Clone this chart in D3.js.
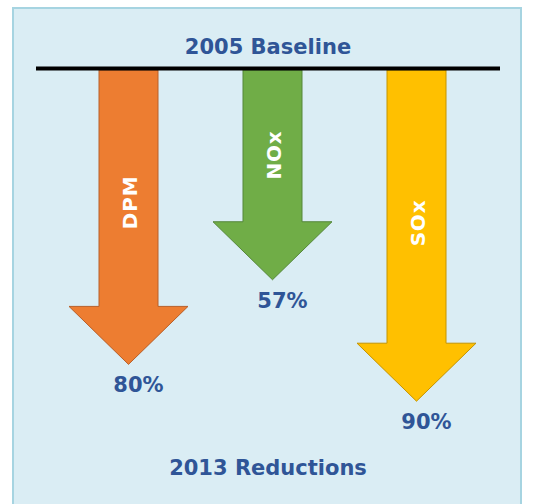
<!DOCTYPE html>
<html>
<head>
    <title>2013 Reductions</title>
    <script src="https://d3js.org/d3.v7.min.js"></script>
    <style>
        body { margin: 0; background: #fff; }
        .blue-text {
            font-family: "DejaVu Sans", sans-serif;
            font-weight: bold;
            font-size: 21px;
            fill: #2f5597;
        }
        .arrow-label {
            font-family: "DejaVu Sans", sans-serif;
            font-weight: bold;
            font-size: 20px;
            letter-spacing: 0.8px;
            fill: #fff;
        }
    </style>
</head>
<body>
    <div id="chart"></div>
    <script>
        // 資料
        const pollutants = ["DPM", "NOx", "SOx"];
        const reductions = [80, 57, 90];
        const fills = ["#ed7d31", "#70ad47", "#ffc000"];
        const strokes = ["#b8602a", "#55873a", "#c49400"];
        const titleTop = "2005 Baseline";
        const titleBottom = "2013 Reductions";

        const width = 537, height = 504;
        const baseY = 70;

        const svg = d3.select("#chart").append("svg")
            .attr("width", width)
            .attr("height", height);

        // 背景面板
        svg.append("rect")
            .attr("x", 13).attr("y", 8)
            .attr("width", 508).attr("height", 510)
            .attr("fill", "#daedf4")
            .attr("stroke", "#a6d4e1")
            .attr("stroke-width", 2);

        const x = d3.scalePoint().domain(pollutants).range([128.5, 416.5]);
        const y = d3.scaleLinear().domain([0, 100]).range([baseY, baseY + 368]);

        const shaftW = 59, headW = 119, headH = 58;

        function arrowPath(cx, tip) {
            const p = d3.path();
            const headY = tip - headH;
            p.moveTo(cx - shaftW / 2, baseY);
            p.lineTo(cx + shaftW / 2, baseY);
            p.lineTo(cx + shaftW / 2, headY);
            p.lineTo(cx + headW / 2, headY);
            p.lineTo(cx, tip);
            p.lineTo(cx - headW / 2, headY);
            p.lineTo(cx - shaftW / 2, headY);
            p.closePath();
            return p.toString();
        }

        const data = pollutants.map((name, i) => ({
            name: name, value: reductions[i], fill: fills[i], stroke: strokes[i]
        }));

        const g = svg.selectAll(".arrow")
            .data(data)
            .enter()
            .append("g")
            .attr("class", "arrow");

        g.append("path")
            .attr("d", d => arrowPath(x(d.name), y(d.value)))
            .attr("fill", d => d.fill)
            .attr("stroke", d => d.stroke)
            .attr("stroke-width", 1);

        // 箭頭內文字（旋轉）
        g.append("text")
            .attr("class", "arrow-label")
            .attr("text-anchor", "middle")
            .attr("dominant-baseline", "central")
            .attr("transform", d => `translate(${x(d.name) + 1},${baseY + (y(d.value) - headH - baseY) * 0.56}) rotate(-90)`)
            .text(d => d.name);

        // 百分比
        g.append("text")
            .attr("class", "blue-text")
            .attr("text-anchor", "middle")
            .attr("x", d => x(d.name) + 10)
            .attr("y", d => y(d.value) + 28)
            .text(d => d.value + "%");

        // 基準線
        svg.append("line")
            .attr("x1", 36).attr("x2", 500)
            .attr("y1", 68.5).attr("y2", 68.5)
            .attr("stroke", "#000")
            .attr("stroke-width", 4);

        svg.append("text")
            .attr("class", "blue-text")
            .attr("text-anchor", "middle")
            .attr("x", 268).attr("y", 54)
            .text(titleTop);

        svg.append("text")
            .attr("class", "blue-text")
            .attr("text-anchor", "middle")
            .attr("x", 268).attr("y", 475)
            .text(titleBottom);
    </script>
</body>
</html>
